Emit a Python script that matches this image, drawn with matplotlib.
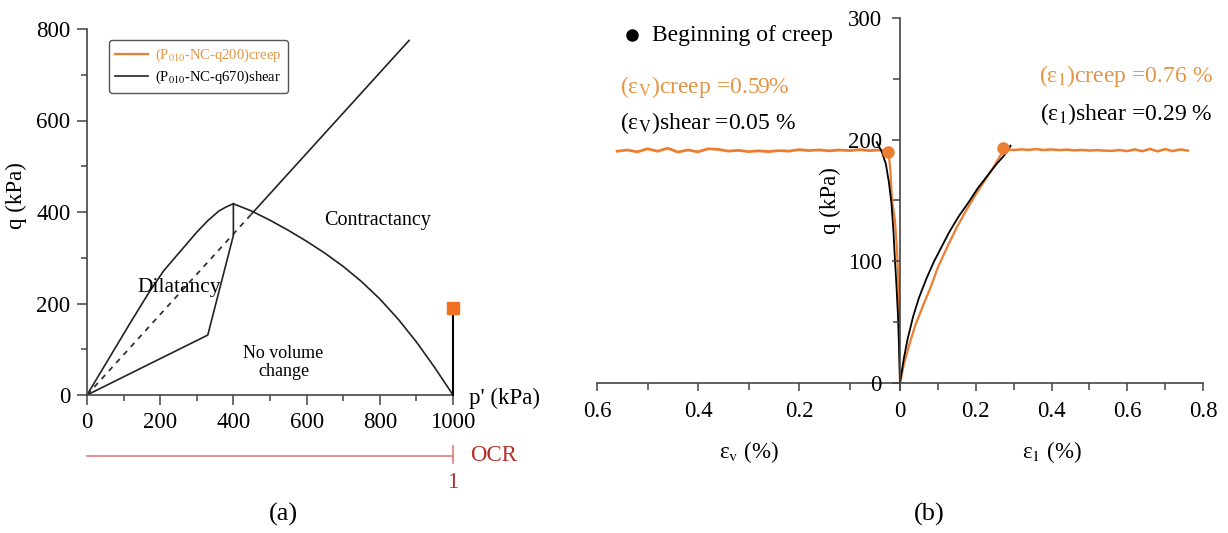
import matplotlib
matplotlib.use("Agg")
import matplotlib.pyplot as plt
from matplotlib.lines import Line2D
from matplotlib.ticker import MultipleLocator

plt.rcParams["font.family"] = ["Liberation Serif", "DejaVu Serif"]
plt.rcParams["mathtext.fontset"] = "stix"

ORANGE = "#ED7D31"
ORANGE_TXT = "#E39545"
RED_LINE = "#E07A7A"
RED_TXT = "#B5302A"
AXC = "#444444"
FS = 16.5

# ---- panel (a): stress plane ----
csl_p_dash = [0, 450]
csl_q_dash = [0, 396]
csl_p_solid = [450, 880]
csl_q_solid = [396, 775]

upper_p = [0, 60, 120, 170, 210, 240, 270, 300, 330, 360, 380, 400]
upper_q = [0, 80, 160, 225, 272, 300, 328, 356, 381, 402, 411, 418]

lower_p = [0, 330, 400, 400]
lower_q = [0, 131, 349, 418]

contr_p = [400, 450, 500, 550, 600, 650, 700, 750, 800, 850, 900, 950, 1000]
contr_q = [418, 402, 382, 360, 336, 310, 281, 248, 210, 166, 116, 60, 0]

path_p = [1000, 1000]
path_q = [0, 190]
creep_pt = (1000, 190)

# ---- panel (b): strains ----
shear_ev = [0, 0.002, 0.004, 0.007, 0.010, 0.013, 0.017, 0.022, 0.028, 0.036, 0.046]
shear_qv = [0, 30, 55, 80, 101, 125, 148, 165, 180, 190, 198]
creep_ev_load = [0, 0.001, 0.003, 0.006, 0.010, 0.016, 0.019, 0.023]
creep_qv_load = [0, 50, 80, 110, 134, 150, 175, 190]
creep_ev = [0.028, 0.04, 0.06, 0.08, 0.10, 0.12, 0.14, 0.16, 0.18, 0.20, 0.22, 0.24,
            0.26, 0.28, 0.30, 0.32, 0.34, 0.36, 0.38, 0.40, 0.42, 0.44, 0.46, 0.48,
            0.50, 0.52, 0.54, 0.56]
creep_qv = [191, 191.5, 191, 191.8, 191, 191.5, 190.8, 191.6, 191, 191.8, 190.6, 191,
            190.2, 190.8, 190.2, 191.2, 190.6, 192, 192.5, 190, 191.5, 189.8, 193,
            190.5, 192.5, 190, 191.5, 190.5]

shear_e1 = [0, 0.01, 0.02, 0.035, 0.05, 0.07, 0.09, 0.11, 0.13, 0.155, 0.18, 0.205,
            0.23, 0.255, 0.275, 0.292]
shear_q1 = [0, 20, 36, 55, 70, 86, 100, 112, 124, 137, 148, 160, 170, 180, 187, 195]
creep_e1_load = [0, 0.01, 0.025, 0.04, 0.06, 0.08, 0.10, 0.125, 0.15, 0.175, 0.20,
                 0.225, 0.25, 0.265, 0.275]
creep_q1_load = [0, 15, 32, 47, 63, 78, 95, 112, 128, 142, 155, 167, 179, 187, 192]
creep_e1 = [0.275, 0.30, 0.32, 0.34, 0.36, 0.38, 0.40, 0.42, 0.44, 0.46, 0.48, 0.50,
            0.52, 0.54, 0.56, 0.58, 0.60, 0.62, 0.64, 0.66, 0.68, 0.70, 0.72, 0.74, 0.76]
creep_q1 = [192, 191.5, 192, 191.6, 192.2, 191.5, 192, 191.4, 191.8, 191.2, 191.6,
            191, 191.4, 191, 190.8, 191.5, 190.6, 192, 190.5, 192.4, 190.4, 192.2,
            190.6, 192, 191]

begin_ev = (0.023, 190)
begin_e1 = (0.273, 193)

fig = plt.figure(figsize=(12.28, 5.33), dpi=100)

# ================= (a) =================
ax = fig.add_axes([87 / 1228, 1 - 395 / 533, 366 / 1228, 366 / 533])
ax.plot(csl_p_dash, csl_q_dash, color="#333333", lw=1.3, ls=(0, (3, 3)))
ax.plot(csl_p_solid, csl_q_solid, color="#222222", lw=1.2)
ax.plot(upper_p, upper_q, color="#222222", lw=1.2)
ax.plot(lower_p, lower_q, color="#222222", lw=1.2)
ax.plot(contr_p, contr_q, color="#222222", lw=1.2)
ax.plot(path_p, path_q, color="black", lw=1.5, clip_on=False, zorder=4)
ax.plot([creep_pt[0]], [creep_pt[1]], marker="s", ms=9, color="#F07020", ls="none",
        clip_on=False, zorder=5)

ax.set_xlim(0, 1000)
ax.set_ylim(0, 800)
ax.xaxis.set_major_locator(MultipleLocator(200))
ax.xaxis.set_minor_locator(MultipleLocator(100))
ax.yaxis.set_major_locator(MultipleLocator(200))
ax.yaxis.set_minor_locator(MultipleLocator(100))
for s in ["top", "right"]:
    ax.spines[s].set_visible(False)
for s in ["left", "bottom"]:
    ax.spines[s].set_color(AXC)
    ax.spines[s].set_linewidth(1.2)
ax.tick_params(which="major", direction="out", length=7, width=1.1, color=AXC,
               labelsize=FS, pad=5)
ax.tick_params(which="minor", direction="out", length=4, width=1.1, color=AXC)
ax.set_ylabel("q (kPa)", fontsize=FS)
ax.yaxis.set_label_coords(-0.164, 0.546)

ax.text(1043, -8, "p' (kPa)", fontsize=FS, va="center", ha="left", clip_on=False)
ax.text(252, 236, "Dilatancy", fontsize=15.5, ha="center", va="center")
ax.text(537, 71, "No volume\nchange", fontsize=13, ha="center", va="center",
        linespacing=1.1)
ax.text(795, 382, "Contractancy", fontsize=14.5, ha="center", va="center")

# OCR scale under the axis
ax.plot([0, 1000], [-133, -133], color=RED_LINE, lw=1.2, clip_on=False)
ax.plot([1000, 1000], [-111, -148], color=RED_LINE, lw=1.2, clip_on=False)
ax.text(1046, -133, "OCR", color=RED_TXT, fontsize=FS, va="center", ha="left")
ax.text(1000, -192, "1", color=RED_TXT, fontsize=FS, va="center", ha="center")

handles = [Line2D([], [], color=ORANGE, lw=1.6),
           Line2D([], [], color="#222222", lw=1.2)]
leg = ax.legend(handles, [r"(P$_{010}$-NC-q200)creep", r"(P$_{010}$-NC-q670)shear"],
                loc="upper left", bbox_to_anchor=(0.04, 0.99), fontsize=10.5,
                handlelength=2.2, handletextpad=0.5, borderpad=0.45, labelspacing=0.35,
                frameon=True, fancybox=True, edgecolor="#555555", framealpha=1)
leg.get_frame().set_linewidth(1.0)
leg.get_texts()[0].set_color(ORANGE_TXT)

fig.text(0.2305, 0.034, "(a)", fontsize=19, ha="center", va="center")

# ================= (b) =================
axL = fig.add_axes([597 / 1228, 1 - 383 / 533, 303 / 1228, 365 / 533])
axR = fig.add_axes([900 / 1228, 1 - 383 / 533, 303 / 1228, 365 / 533])

axL.plot(creep_ev, creep_qv, color=ORANGE, lw=2.0)
axL.plot(creep_ev_load, creep_qv_load, color=ORANGE, lw=1.6)
axL.plot(shear_ev, shear_qv, color="black", lw=1.3)
axL.plot([begin_ev[0]], [begin_ev[1]], "o", color=ORANGE, ms=8)
axL.set_xlim(0.6, 0)
axL.set_ylim(0, 300)
axL.set_xticks([0.6, 0.4, 0.2, 0.0])
axL.set_xticklabels(["0.6", "0.4", "0.2", ""])
axL.xaxis.set_minor_locator(MultipleLocator(0.1))
axL.set_yticks([])
for s in ["top", "right", "left"]:
    axL.spines[s].set_visible(False)

axR.plot(creep_e1, creep_q1, color=ORANGE, lw=1.8)
axR.plot(creep_e1_load, creep_q1_load, color=ORANGE, lw=1.6)
axR.plot(shear_e1, shear_q1, color="black", lw=1.3)
axR.plot([begin_e1[0]], [begin_e1[1]], "o", color=ORANGE, ms=8)
axR.set_xlim(0, 0.8)
axR.set_ylim(0, 300)
axR.set_xticks([0, 0.2, 0.4, 0.6, 0.8])
axR.set_xticklabels(["0", "0.2", "0.4", "0.6", "0.8"])
axR.xaxis.set_minor_locator(MultipleLocator(0.1))
axR.set_yticks([0, 100, 200, 300])
axR.yaxis.set_minor_locator(MultipleLocator(50))
axR.patch.set_alpha(0)
for s in ["top", "right"]:
    axR.spines[s].set_visible(False)
axR.set_ylabel("q (kPa)", fontsize=FS, labelpad=5)

for a in (axL, axR):
    for s in ["left", "bottom"]:
        a.spines[s].set_color(AXC)
        a.spines[s].set_linewidth(1.2)
    a.tick_params(which="major", direction="out", length=6, width=1.1, color=AXC,
                  labelsize=FS, pad=7)
    a.tick_params(which="minor", direction="out", length=5, width=1.1, color=AXC)

axL.set_xlabel(r"ε$_\mathrm{v}$ (%)", fontsize=FS, labelpad=12)
axR.set_xlabel(r"ε$_1$ (%)", fontsize=FS, labelpad=12)

# annotations
axL.plot([0.531], [286], "o", color="black", ms=8, clip_on=False)
axL.text(0.492, 286, "Beginning of creep", fontsize=17, va="center", ha="left")
axL.text(0.554, 243, r"(ε$_\mathrm{V}$)creep =0.59%", fontsize=17, color=ORANGE_TXT,
         va="center", ha="left")
axL.text(0.554, 214, r"(ε$_\mathrm{V}$)shear =0.05 %", fontsize=17, color="black",
         va="center", ha="left")
axR.text(0.826, 252, r"(ε$_1$)creep =0.76 %", fontsize=17, color=ORANGE_TXT,
         va="center", ha="right", clip_on=False)
axR.text(0.826, 221, r"(ε$_1$)shear =0.29 %", fontsize=17, color="black",
         va="center", ha="right", clip_on=False)

fig.text(0.7565, 0.034, "(b)", fontsize=19, ha="center", va="center")

fig.savefig("out.png", dpi=100)
